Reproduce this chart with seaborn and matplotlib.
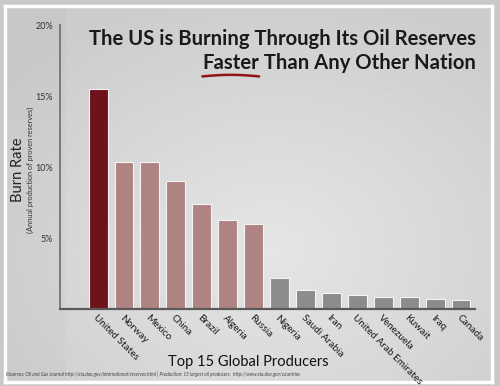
import numpy as np
import pandas as pd
import matplotlib
matplotlib.use("Agg")
import matplotlib.pyplot as plt
import seaborn as sns

countries = ["United States", "Norway", "Mexico", "China", "Brazil", "Algeria", "Russia",
             "Nigeria", "Saudi Arabia", "Iran", "United Arab Emirates", "Venezuela",
             "Kuwait", "Iraq", "Canada"]
burn_rate = [15.5, 10.35, 10.35, 9.0, 7.4, 6.25, 6.0,
             2.2, 1.35, 1.15, 1.0, 0.85, 0.85, 0.7, 0.65]
bar_colors = ["#7c0410"] + ["#b67c7a"] * 6 + ["#8c8c8c"] * 8
y_ticks = [0, 5, 10, 15, 20]
y_ticklabels = ["", "5%", "10%", "15%", "20%"]

df = pd.DataFrame({"country": countries, "rate": burn_rate})

sns.set_style("white")
plt.rcParams["font.family"] = ["Lato", "DejaVu Sans"]

fig = plt.figure(figsize=(5, 3.86), dpi=100)
fig.patch.set_facecolor("#c9c9c9")

# soft gray background panel with white frame
bg = fig.add_axes([0.01, 0.01, 0.974, 0.974])
yy, xx = np.mgrid[0:1:200j, 0:1:260j]
shade = 0.80 + 0.10 * np.clip(np.hypot(xx - 0.55, yy - 0.35) * -1.4 + 1.0, 0, 1) - 0.015 * (xx < 0.12)
bg.imshow(shade, cmap="gray", vmin=0, vmax=1, aspect="auto", extent=[0, 1, 0, 1], origin="lower")
bg.set_xticks([])
bg.set_yticks([])
for s in bg.spines.values():
    s.set_color("white")
    s.set_linewidth(2.5)

ax = fig.add_axes([0.12, 0.1995, 0.83, 0.7355])
ax.patch.set_alpha(0)
sns.barplot(data=df, x="country", y="rate", hue="country", palette=bar_colors,
            legend=False, width=0.73, edgecolor="#f4f4f4", linewidth=0.8, ax=ax)

ax.set_xlim(-1.47, 14.54)
ax.set_ylim(0, 20)
ax.set_yticks(y_ticks)
ax.set_yticklabels(y_ticklabels, fontsize=6.5, color="#333333")
ax.tick_params(axis="y", direction="in", length=10, width=1.2, color="#777777", pad=5)
ax.tick_params(axis="x", length=0, pad=3)
ax.set_xticks(range(len(countries)))
ax.set_xticklabels(countries, rotation=-45, ha="left", va="top",
                   rotation_mode="anchor", fontsize=7.2, color="#1a1a1a")
ax.set_xlabel("")
ax.set_ylabel("")
for side in ["top", "right"]:
    ax.spines[side].set_visible(False)
ax.spines["left"].set_color("#7a7a7a")
ax.spines["left"].set_linewidth(1.4)
ax.spines["bottom"].set_color("#5a5a5a")
ax.spines["bottom"].set_linewidth(1.6)

fig.text(0.036, 0.56, "Burn Rate", rotation=90, ha="center", va="center",
         fontsize=10.5, color="#222222")
fig.text(0.061, 0.56, "(Annual production of proven reserves)", rotation=90,
         ha="center", va="center", fontsize=5.3, color="#333333")

title_size = 14.6
fig.text(0.952, 0.90, "The US is Burning Through Its Oil Reserves", ha="right", va="center",
         fontsize=title_size, fontweight="bold", color="#1a1a1a")
rest = fig.text(0.952, 0.838, " Than Any Other Nation", ha="right", va="center",
                fontsize=title_size, fontweight="bold", color="#1a1a1a")
renderer = fig.canvas.get_renderer()
x0 = fig.transFigure.inverted().transform(rest.get_window_extent(renderer))[0][0]
faster = fig.text(x0, 0.838, "Faster", ha="right", va="center",
                  fontsize=title_size, fontweight="bold", color="#1a1a1a")
fb = fig.transFigure.inverted().transform(faster.get_window_extent(renderer))
ux = np.linspace(fb[0][0], fb[1][0], 30)
uy = fb[0][1] - 0.010 + 0.004 * np.sin(np.linspace(0, np.pi, 30))
fig.add_artist(plt.Line2D(ux, uy, color="#8e1418", lw=1.8, solid_capstyle="round"))

fig.text(0.496, 0.062, "Top 15 Global Producers", ha="center", va="center",
         fontsize=10.5, color="#111111")
fig.text(0.012, 0.031,
         "Reserves: Oil and Gas Journal http://eia.doe.gov/international/reserves.html | "
         "Production: 15 largest oil producers,  http://www.eia.doe.gov/countries",
         ha="left", va="center", fontsize=3.4, color="#444444", style="italic")

fig.savefig("out.png", dpi=100, facecolor=fig.get_facecolor())
